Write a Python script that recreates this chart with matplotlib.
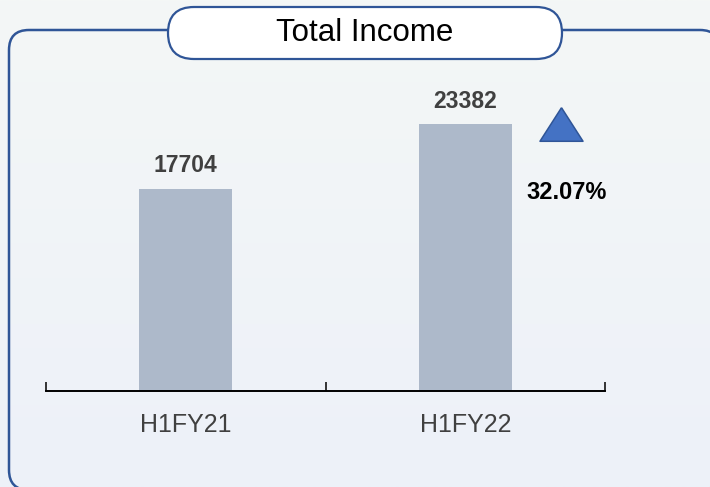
import numpy as np
import matplotlib.pyplot as plt
from matplotlib.patches import FancyBboxPatch

# data
categories = ['H1FY21', 'H1FY22']
values = [17704, 23382]
title = 'Total Income'

growth = (values[1] - values[0]) / values[0] * 100

plt.rcParams['font.family'] = ['Liberation Sans', 'DejaVu Sans']

fig = plt.figure(figsize=(7.1, 4.87), dpi=100)

# background panel, in pixel units
bg = fig.add_axes([0, 0, 1, 1], zorder=0)
bg.axis('off')
grad = np.linspace(0, 1, 256).reshape(-1, 1)
top_c = np.array([0xf4, 0xf7, 0xf6]) / 255
bot_c = np.array([0xed, 0xf1, 0xf9]) / 255
img = top_c * (1 - grad[..., None]) + bot_c * grad[..., None]
bg.imshow(img, extent=[0, 710, 0, 487], aspect='auto', origin='upper')

outline = '#2f5597'
# tiny face alpha so agg doesn't clip the outline along the canvas edge
frame = FancyBboxPatch((9, -3), 711, 460, boxstyle='round,pad=0,rounding_size=20',
                       facecolor=(1, 1, 1, 0.003), edgecolor=outline, linewidth=1.8)
bg.add_patch(frame)
pill = FancyBboxPatch((168, 428), 394, 52, boxstyle='round,pad=0,rounding_size=26',
                      facecolor='white', edgecolor=outline, linewidth=1.6)
bg.add_patch(pill)
bg.text(365, 454, title, ha='center', va='center', fontsize=22.5, color='black')
bg.set_xlim(0, 710)
bg.set_ylim(0, 487)

# bar chart
ax = fig.add_axes([46 / 710, 96 / 487, 559 / 710, 300 / 487], zorder=1)
ax.patch.set_alpha(0)
x = np.arange(len(categories)) + 0.5
ax.bar(x, values, width=0.333, color='#adb9ca')
ax.set_xlim(0, len(categories))
ax.set_ylim(0, values[0] * 300 / 202)

for xi, v in zip(x, values):
    ax.annotate(str(v), (xi, v), xytext=(0, 12), textcoords='offset points',
                ha='center', va='baseline', fontsize=16.5, fontweight='bold', color='#404040')

# growth marker
tri_x = x[1] + 0.343
tri = [(0, 0.78), (-1, -0.78), (1, -0.78), (0, 0.78)]
ax.plot(tri_x, values[1], marker=tri, markersize=31, markerfacecolor='#4472c4',
        markeredgecolor=outline, markeredgewidth=1.1, linestyle='none', clip_on=False)
ax.annotate('%.2f%%' % growth, (tri_x, values[1]), xytext=(4, -54), textcoords='offset points',
            ha='center', va='baseline', fontsize=17, fontweight='bold', color='black')

for s in ['top', 'left', 'right']:
    ax.spines[s].set_visible(False)
ax.spines['bottom'].set_linewidth(1.4)
ax.set_yticks([])
ax.set_xticks(np.arange(len(categories) + 1))
ax.set_xticklabels([''] * (len(categories) + 1))
ax.tick_params(axis='x', which='major', direction='in', length=6.5, width=1.1)
ax.set_xticks(x, minor=True)
ax.set_xticklabels(categories, minor=True)
ax.tick_params(axis='x', which='minor', length=0, pad=15.5, labelsize=18, labelcolor='#404040')

fig.savefig('out.png', dpi=100)
